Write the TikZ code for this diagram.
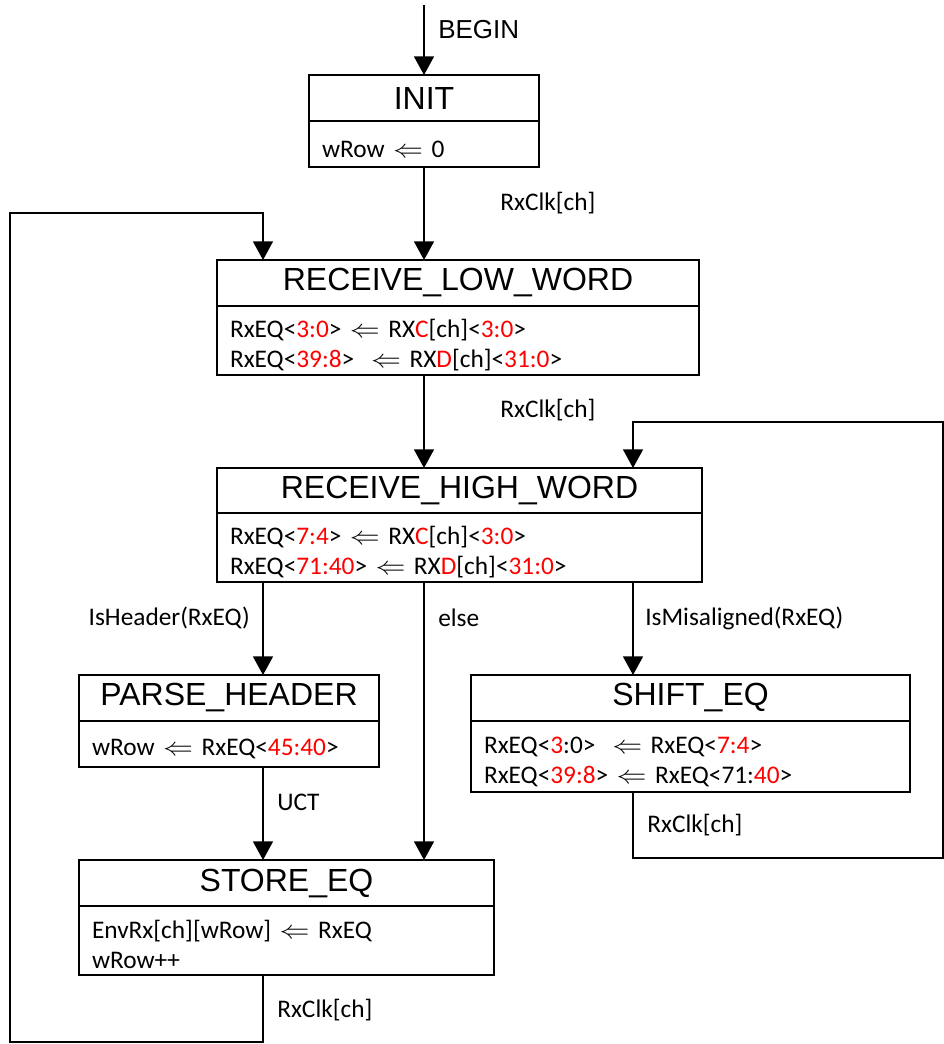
\documentclass[tikz,border=0pt]{standalone}
\usepackage{fontspec}
\usepackage{graphicx}
\setmainfont{Carlito}
\newfontfamily\arialf{Liberation Sans}
\usetikzlibrary{arrows.meta,calc}
\newcommand\rd[1]{\textcolor{red}{#1}}
\newcommand\la{\scalebox{1.3}[1.1]{$\Leftarrow$}}
\begin{document}
\begin{tikzpicture}[x=0.75pt,y=-0.75pt,
 ttl/.style={draw,line width=1.5pt,outer sep=0pt,anchor=north west,inner sep=0pt,font=\arialf\fontsize{24}{28}\selectfont},
 bdy/.style={draw,line width=1.5pt,outer sep=0pt,anchor=north west,inner xsep=13*0.75pt,inner ysep=0pt,align=left,font=\fontsize{19}{22.5}\selectfont,
   execute at begin node={\leavevmode\vrule width 0pt height 20pt\relax}},
 lbl/.style={anchor=west,inner sep=0pt,font=\fontsize{19}{22.5}\selectfont},
 arr/.style={line width=1.2pt,-{Triangle[length=14pt,width=15pt]}},
 ln/.style={line width=1.2pt}]
\useasboundingbox (0,0) rectangle (944,1044);

% INIT
\node[ttl,minimum width=230*0.75pt,minimum height=46*0.75pt] (init) at (309,75) {INIT};
\node[bdy,text width=204*0.75pt,minimum height=46*0.75pt] (initb) at (init.south west) {wRow \la\ 0};

% RECEIVE_LOW_WORD
\node[ttl,minimum width=482*0.75pt,minimum height=46*0.75pt] (rlw) at (217,260) {RECEIVE\_LOW\_WORD};
\node[bdy,text width=456*0.75pt,minimum height=69*0.75pt] (rlwb) at (rlw.south west)
 {RxEQ<\rd{3:0}> \la\ RX\rd{C}[ch]<\rd{3:0}>\\RxEQ<\rd{39:8}>\ \ \la\ RX\rd{D}[ch]<\rd{31:0}>};

% RECEIVE_HIGH_WORD
\node[ttl,minimum width=485*0.75pt,minimum height=45*0.75pt] (rhw) at (217,468) {RECEIVE\_HIGH\_WORD};
\node[bdy,text width=459*0.75pt,minimum height=69*0.75pt] (rhwb) at (rhw.south west)
 {RxEQ<\rd{7:4}> \la\ RX\rd{C}[ch]<\rd{3:0}>\\RxEQ<\rd{71:40}> \la\ RX\rd{D}[ch]<\rd{31:0}>};

% PARSE_HEADER
\node[ttl,minimum width=300*0.75pt,minimum height=46*0.75pt] (ph) at (79,675) {PARSE\_HEADER};
\node[bdy,text width=274*0.75pt,minimum height=46*0.75pt] (phb) at (ph.south west)
 {wRow \la\ RxEQ<\rd{45:40}>};

% SHIFT_EQ
\node[ttl,minimum width=439*0.75pt,minimum height=46*0.75pt] (sh) at (471,675) {SHIFT\_EQ};
\node[bdy,text width=413*0.75pt,minimum height=71*0.75pt] (shb) at (sh.south west)
 {RxEQ<\rd{3}:0>\ \ \la\ RxEQ<\rd{7:4}>\\RxEQ<\rd{39:8}> \la\ RxEQ<71:\rd{40}>};

% STORE_EQ
\node[ttl,minimum width=415*0.75pt,minimum height=46*0.75pt] (st) at (79,860) {STORE\_EQ};
\node[bdy,text width=389*0.75pt,minimum height=69*0.75pt] (stb) at (st.south west)
 {EnvRx[ch][wRow] \la\ RxEQ\\wRow++};

% helper coordinates
\coordinate (start) at (424,5);
\coordinate (xa) at (263,0);
\coordinate (xb) at (424,0);
\coordinate (xc) at (633,0);
\coordinate (bl) at (10,1042);
\coordinate (tl) at (10,213);
\coordinate (br) at (943,858);
\coordinate (tr) at (943,422);

% connectors
\draw[arr] (start) -- (init.north);
\draw[arr] (initb.south) -- (rlw.north -| xb);
\draw[arr] (rlwb.south -| xb) -- (rhw.north -| xb);
\draw[arr] (rhwb.south -| xa) -- (ph.north -| xa);
\draw[arr] (rhwb.south -| xb) -- (st.north -| xb);
\draw[arr] (rhwb.south -| xc) -- (sh.north -| xc);
\draw[arr] (phb.south -| xa) -- (st.north -| xa);
\draw[arr] (stb.south -| xa) |- (bl) -- (tl) -| (rlw.north -| xa);
\draw[arr] (shb.south -| xc) |- (br) -- (tr) -| (rhw.north -| xc);

% labels
\node[lbl,font=\arialf\fontsize{19.5}{22}\selectfont] (lbegin) at (438,30) {BEGIN};
\node[lbl] (lc1) at (500,203) {RxClk[ch]};
\node[lbl] (lc2) at (500,410) {RxClk[ch]};
\node[lbl,anchor=east] (lhdr) at (250,618) {IsHeader(RxEQ)};
\node[lbl] (lelse) at (438,618) {else};
\node[lbl] (lmis) at (645,618) {IsMisaligned(RxEQ)};
\node[lbl] (luct) at (277,802) {UCT};
\node[lbl] (lc3) at (647,825) {RxClk[ch]};
\node[lbl] (lc4) at (277,1010) {RxClk[ch]};
\end{tikzpicture}
\end{document}
